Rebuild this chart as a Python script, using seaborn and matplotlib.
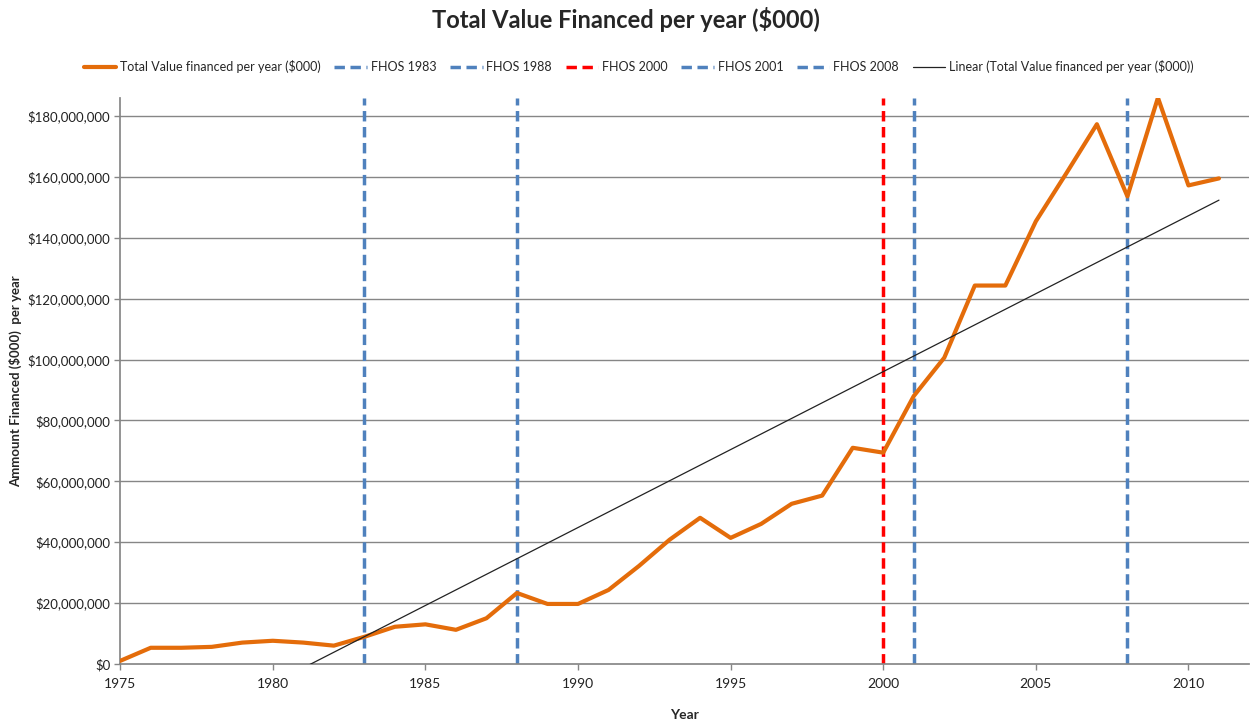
import numpy as np
import pandas as pd
import seaborn as sns
import matplotlib.pyplot as plt
from matplotlib.ticker import FuncFormatter, MultipleLocator

# Values
years = list(range(1975, 2012))
financed = [1.0, 5.3, 5.3, 5.6, 7.0, 7.6, 7.0, 6.0, 8.9, 12.2,
            13.0, 11.2, 15.0, 23.3, 19.7, 19.7, 24.3, 32.2, 40.8, 48.0,
            41.4, 46.0, 52.6, 55.3, 71.0, 69.4, 88.0, 100.6, 124.3, 124.3,
            145.4, 161.2, 177.3, 153.6, 186.0, 157.2, 159.5]  # $ millions
fhos_years = [1983, 1988, 2000, 2001, 2008]
fhos_colors = ['#4F81BD', '#4F81BD', '#FF0000', '#4F81BD', '#4F81BD']

df = pd.DataFrame({'Year': years, 'Value': np.array(financed) * 1e6})

sns.set_theme(style='white')
plt.rcParams['font.family'] = ['Lato', 'DejaVu Sans']

fig = plt.figure(figsize=(12.52, 7.24), dpi=100)
ax = fig.add_axes([0.096, 0.083, 0.902, 0.782])

ax.yaxis.set_major_locator(MultipleLocator(20e6))
for y in np.arange(20e6, 190e6, 20e6):
    ax.axhline(y, color='#868686', lw=1, zorder=0)

sns.lineplot(data=df, x='Year', y='Value', ax=ax, color='#E46C0A', lw=3,
             label='Total Value financed per year ($000)', zorder=3)

for yr, c in zip(fhos_years, fhos_colors):
    ax.axvline(yr, color=c, lw=2.5, ls=(0, (3, 1.6)), label=f'FHOS {yr}', zorder=2)

# linear trend line, as Excel draws it
coef = np.polyfit(df['Year'], df['Value'], 1)
ax.plot(df['Year'], np.polyval(coef, df['Year']), color='#222222', lw=0.9,
        label='Linear (Total Value financed per year ($000))', zorder=4)

ax.set_xlim(1975, 2012)
ax.set_ylim(0, 186e6)
ax.xaxis.set_major_locator(MultipleLocator(5))
ax.yaxis.set_major_formatter(FuncFormatter(lambda v, p: f'${v:,.0f}'))
ax.tick_params(axis='both', labelsize=9.5, colors='#222222', length=4, width=1)
ax.tick_params(axis='x', bottom=True, direction='out', color='#868686', pad=6, labelsize=10)
ax.tick_params(axis='y', left=True, direction='out', color='#868686', pad=3)
for s in ['top', 'right']:
    ax.spines[s].set_visible(False)
for s in ['left', 'bottom']:
    ax.spines[s].set_color('#868686')

ax.set_xlabel('Year', fontsize=10, fontweight='bold', labelpad=14)
ax.set_ylabel('Ammount Financed ($000)  per year', fontsize=9.5, fontweight='bold', labelpad=4)

fig.suptitle('Total Value Financed per year ($000)', fontsize=17, fontweight='bold', y=0.99)
handles, labels = ax.get_legend_handles_labels()
ax.get_legend().remove()
fig.legend(handles, labels, loc='center', bbox_to_anchor=(0.51, 0.908), ncol=7, frameon=False,
           fontsize=9, handlelength=2.6, columnspacing=1.1, handletextpad=0.3)

fig.savefig('out.png', dpi=100)
